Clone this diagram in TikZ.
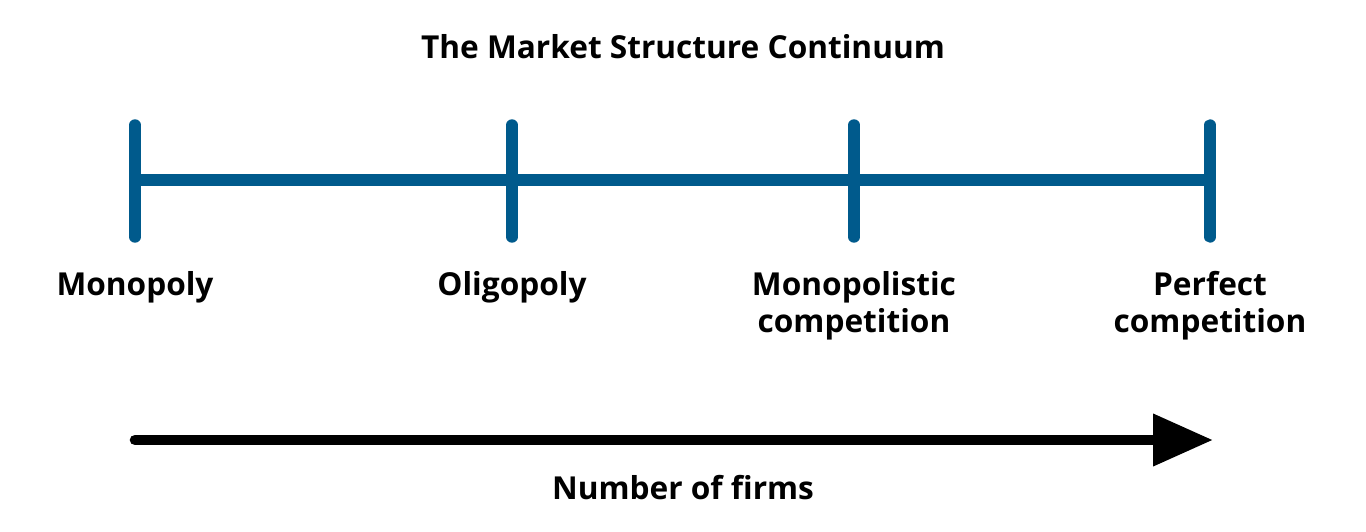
\documentclass[tikz,border=0pt]{standalone}
\usepackage{fontspec}
\setmainfont{Open Sans}
\usetikzlibrary{arrows.meta}
\definecolor{bl}{HTML}{005A8C}
\begin{document}
\begin{tikzpicture}[x=0.02cm,y=-0.02cm,
 lab/.style={font=\fontsize{18}{21}\selectfont\bfseries,align=center,anchor=north},
 tick/.style={draw=bl,line width=6.5pt,line cap=round}]
\useasboundingbox (0,0) rectangle (1366,531);
\node[font=\fontsize{18}{21}\selectfont\bfseries] (title) at (683,47) {The Market Structure Continuum};
\coordinate (a) at (135,180); \coordinate (b) at (512,180);
\coordinate (c) at (854,180); \coordinate (d) at (1210,180);
\draw[draw=bl,line width=6.5pt] (a) -- (d);
\foreach \p in {a,b,c,d}{\draw[tick] ([yshift=-57*0.02cm]\p) -- ([yshift=55*0.02cm]\p);}
\node[lab] (m) at (135,265) {Monopoly};
\node[lab] (o) at (512,265) {Oligopoly};
\node[lab] (mc) at (854,265) {Monopolistic\\competition};
\node[lab] (pc) at (1210,265) {Perfect\\competition};
\coordinate (s) at (135,440); \coordinate (e) at (1213,440);
\draw[line width=6pt,line cap=round,-{Triangle[length=60*0.02cm,width=50*0.02cm]}] (s) -- (e);
\node[font=\fontsize{18}{21}\selectfont\bfseries] (n) at (683,488) {Number of firms};
\end{tikzpicture}
\end{document}
